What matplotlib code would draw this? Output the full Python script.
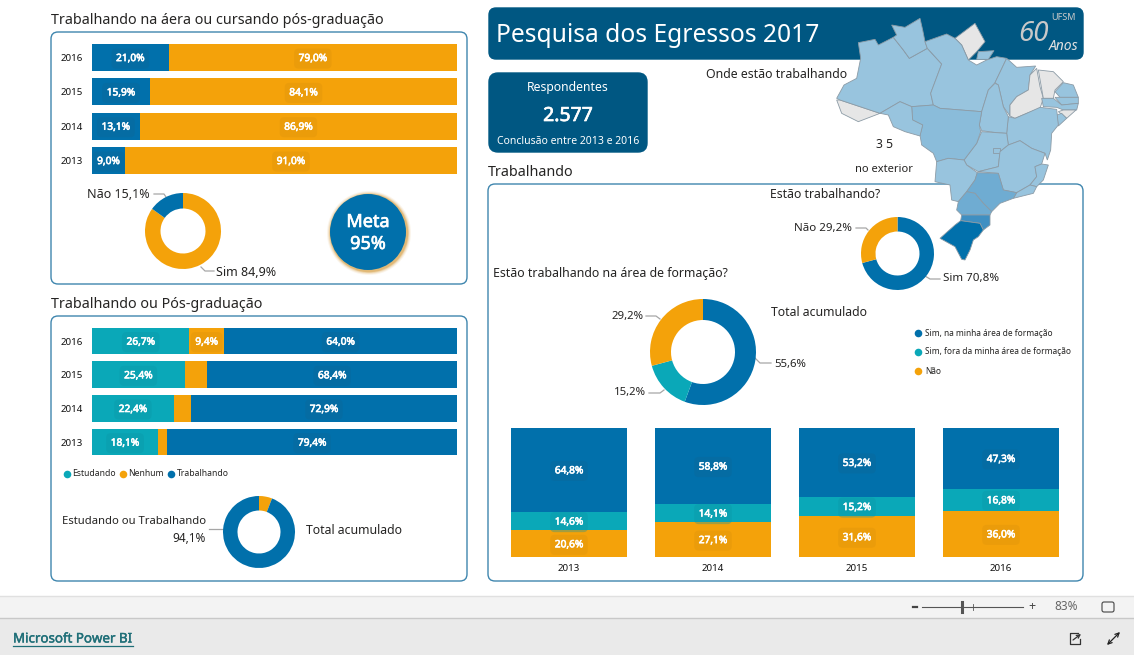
import matplotlib
matplotlib.use('Agg')
import matplotlib.pyplot as plt
import matplotlib.patheffects as pe
from matplotlib.patches import FancyBboxPatch, Polygon, Circle
import numpy as np

plt.rcParams['font.family'] = ['Noto Sans', 'DejaVu Sans']

W, H = 1134, 655
AZUL = '#0170AB'
LARANJA = '#F4A20A'
TEAL = '#0AA8B8'
ESCURO = '#005782'
BORDA = '#3F86AE'
TEXTO = '#252423'

# dados
anos = ['2016', '2015', '2014', '2013']
sim_area = [21.0, 15.9, 13.1, 9.0]
nao_area = [79.0, 84.1, 86.9, 91.0]

estudando = [26.7, 25.4, 22.4, 18.1]
nenhum = [9.4, 6.2, 4.7, 2.5]
trabalhando = [64.0, 68.4, 72.9, 79.4]

donut_area = [84.9, 15.1]
donut_acum = [5.9, 94.1]
donut_trab = [70.8, 29.2]
donut_form = [55.6, 15.2, 29.2]

anos_col = ['2013', '2014', '2015', '2016']
col_sim = [64.8, 58.8, 53.2, 47.3]
col_fora = [14.6, 14.1, 15.2, 16.8]
col_nao = [20.6, 27.1, 31.6, 36.0]

# contorno dos estados (mapa), cor de cada um
MAPA_1 = '#98C4DE'
MAPA_2 = '#8ABCDA'
MAPA_3 = '#6FACD2'
MAPA_4 = '#3F8FC2'
CINZA = '#E6E6E6'
estados = [
    ('AC', CINZA, [(-10,270),(5,310),(55,335),(120,310),(60,290),(0,270)]),
    ('AM', MAPA_1, [(55,98),(105,88),(115,105),(160,82),(190,120),(208,145),(235,130),(262,115),(305,162),(272,250),(280,285),(215,290),(180,275),(120,310),(60,290),(0,270),(-10,265),(12,225),(50,205),(62,145)]),
    ('RR', MAPA_1, [(155,45),(195,52),(240,25),(248,60),(255,95),(262,115),(235,130),(208,145),(190,120),(160,82),(170,75)]),
    ('AP', CINZA, [(345,85),(405,40),(435,95),(410,125),(385,150),(365,105)]),
    ('PA', MAPA_1, [(255,95),(320,72),(345,85),(365,105),(385,150),(410,165),(440,150),(470,140),(500,145),(465,218),(445,240),(425,305),(300,295),(280,285),(272,250),(305,162),(262,115)]),
    ('MJ', MAPA_1, [(415,125),(462,122),(445,148),(410,148)]),
    ('MA', MAPA_1, [(500,145),(530,172),(587,168),(570,195),(565,240),(530,260),(510,285),(510,318),(490,290),(475,225),(465,218)]),
    ('PI', CINZA, [(590,175),(600,230),(610,265),(600,295),(560,310),(525,325),(510,318),(510,285),(530,260),(565,240),(570,195)]),
    ('CE', CINZA, [(595,180),(640,185),(670,215),(645,240),(640,265),(610,265)]),
    ('RN', MAPA_1, [(670,218),(700,225),(715,262),(660,262),(645,245)]),
    ('PB', MAPA_1, [(645,262),(715,262),(715,280),(665,285)]),
    ('PE', MAPA_1, [(605,265),(640,265),(665,285),(715,280),(710,300),(670,300),(650,292),(610,290)]),
    ('AL', CINZA, [(655,305),(670,300),(708,300),(680,325)]),
    ('SE', MAPA_1, [(650,315),(665,310),(680,325),(655,348)]),
    ('BA', MAPA_1, [(505,405),(500,370),(505,320),(525,325),(560,310),(600,292),(650,298),(655,345),(635,370),(632,420),(622,450),(615,430),(575,415),(540,392)]),
    ('TO', MAPA_1, [(465,220),(475,225),(490,290),(505,320),(500,370),(470,368),(425,362),(418,345),(425,305),(445,240)]),
    ('GO', MAPA_1, [(425,365),(500,370),(505,405),(480,425),(475,470),(415,485),(380,465),(372,450),(410,400)]),
    ('DF', MAPA_1, [(460,415),(480,415),(480,428),(460,428)]),
    ('MT', MAPA_2, [(215,290),(280,285),(300,295),(425,305),(418,345),(422,365),(410,400),(372,450),(325,445),(290,455),(280,430),(245,405),(240,375),(248,345),(218,330)]),
    ('RO', MAPA_1, [(120,310),(180,275),(215,290),(218,330),(248,345),(240,378),(195,365),(160,350),(145,315)]),
    ('MS', MAPA_1, [(290,455),(325,445),(372,450),(380,465),(412,488),(405,510),(380,545),(355,575),(335,570),(330,525),(285,515)]),
    ('MG', MAPA_1, [(505,405),(540,392),(575,415),(615,430),(605,462),(585,470),(590,500),(570,525),(530,548),(490,540),(475,490),(415,485),(475,470),(480,425)]),
    ('ES', MAPA_1, [(605,462),(625,465),(610,510),(590,530),(570,525),(590,500),(585,470)]),
    ('RJ', MAPA_1, [(530,548),(570,525),(590,530),(580,550),(520,565)]),
    ('SP', MAPA_3, [(412,488),(475,490),(490,540),(530,548),(520,565),(480,580),(455,605),(430,580),(405,550),(380,545),(405,510)]),
    ('PR', MAPA_3, [(380,545),(405,550),(430,580),(455,605),(450,615),(365,615),(350,600),(355,575)]),
    ('SC', MAPA_4, [(365,615),(450,615),(450,645),(430,660),(420,640),(362,632)]),
    ('RS', AZUL, [(362,632),(420,640),(430,660),(415,680),(400,690),(390,720),(375,750),(365,748),(345,710),(300,685),(345,645)]),
]


def eixo(x, y, w, h, z=1):
    a = fig.add_axes([x / W, 1 - (y + h) / H, w / W, h / H], zorder=z)
    a.patch.set_alpha(0)
    return a


def caixa(x0, y0, x1, y1, fc='white', ec=BORDA, r=7, lw=1.0):
    bg.add_patch(FancyBboxPatch((x0 + r, y0 + r), x1 - x0 - 2 * r, y1 - y0 - 2 * r,
                                boxstyle=f'round,pad={r},rounding_size={r}', fc=fc, ec=ec, lw=lw))


def negrito(t, cor='white', lw=0.45):
    t.set_path_effects([pe.withStroke(linewidth=lw, foreground=cor)])


def rotulo(a, x, y, txt, cor, tam=7.3):
    t = a.annotate(txt, (x, y), xytext=(0, -0.8), textcoords='offset points',
                   ha='center', va='center', color='white', fontsize=tam,
                   bbox=dict(boxstyle='round,pad=0.45', fc=cor, ec='none', alpha=0.35))
    negrito(t)


def pct(v):
    return f'{v:.1f}%'.replace('.', ',')


def donut(cx, cy, r, interno, valores, cores):
    a = eixo(cx - r, cy - r, 2 * r, 2 * r)
    a.pie(valores, colors=cores, startangle=90, counterclock=False, radius=1,
          wedgeprops=dict(width=1 - interno / r, linewidth=0))
    a.set_xlim(-1, 1)
    a.set_ylim(-1, 1)
    return a


def barras_h(y, h, series, cores, cores_rot, esconder=()):
    a = eixo(92, y, 365, h)
    pos = np.arange(len(anos))
    esq = np.zeros(len(anos))
    for i, (vals, cor) in enumerate(zip(series, cores)):
        a.barh(pos, vals, left=esq, height=0.79, color=cor, linewidth=0)
        for j, v in enumerate(vals):
            if (i, j) not in esconder:
                rotulo(a, esq[j] + v / 2, j, pct(v), cores_rot[i])
        esq = esq + np.array(vals)
    a.set_xlim(0, 100)
    a.set_ylim(len(anos) - 0.5, -0.5)
    a.set_yticks(pos, anos, fontsize=7, color='#111111')
    a.tick_params(axis='y', length=0, pad=6.5)
    a.xaxis.set_visible(False)
    for s in a.spines.values():
        s.set_visible(False)
    return a


fig = plt.figure(figsize=(W / 100, H / 100), dpi=100, facecolor='white')
bg = fig.add_axes([0, 0, 1, 1], zorder=0)
bg.set_xlim(0, W)
bg.set_ylim(H, 0)
bg.axis('off')

# paineis
caixa(51, 32, 467, 284)
caixa(51, 316, 467, 581)
caixa(488, 184, 1083, 581)
caixa(489, 8, 1083, 59, fc=ESCURO, ec=ESCURO)
caixa(489, 73, 647, 152, fc=ESCURO, ec=ESCURO, r=9)

# titulos
bg.text(51, 21, 'Trabalhando na áera ou cursando pós-graduação', fontsize=10.3, color=TEXTO, va='center')
bg.text(51, 305, 'Trabalhando ou Pós-graduação', fontsize=10.3, color=TEXTO, va='center')
bg.text(488, 173, 'Trabalhando', fontsize=10.3, color=TEXTO, va='center')
bg.text(496, 36, 'Pesquisa dos Egressos 2017', fontsize=17.7, color='white', va='center')
bg.text(568, 87, 'Respondentes', fontsize=8.8, color='white', ha='center', va='center')
negrito(bg.text(568, 116, '2.577', fontsize=14, color='white', ha='center', va='center'), lw=0.5)
bg.text(568, 141, 'Conclusão entre 2013 e 2016', fontsize=7.5, color='white', ha='center', va='center')
bg.text(706, 74, 'Onde estão trabalhando', fontsize=8.9, color=TEXTO, va='center')
bg.text(884.5, 144, '3 5', fontsize=8.8, color=TEXTO, ha='center', va='center')
bg.text(884, 170, 'no exterior', fontsize=8, color=TEXTO, ha='center', va='center')
bg.text(770, 195, 'Estão trabalhando?', fontsize=8.8, color=TEXTO, va='center')
bg.text(493, 274, 'Estão trabalhando na área de formação?', fontsize=8.85, color=TEXTO, va='center')
bg.text(771, 312, 'Total acumulado', fontsize=8.8, color=TEXTO, va='center')
bg.text(306, 530, 'Total acumulado', fontsize=8.8, color=TEXTO, va='center')

# barras
barras_h(40.3, 137.3, [sim_area, nao_area], [AZUL, LARANJA], ['#0D6696', '#DC920A'])
barras_h(324.2, 134.7, [estudando, nenhum, trabalhando], [TEAL, LARANJA, AZUL],
         ['#0C95A5', '#DC920A', '#0D6696'], esconder={(1, 1), (1, 2), (1, 3)})

# rosquinhas
donut(183, 231, 38, 22.5, donut_area, [LARANJA, AZUL])
donut(259, 532, 36, 21.5, donut_acum, [LARANJA, AZUL])
donut(897.5, 253.5, 36.5, 22, donut_trab, [AZUL, LARANJA])
donut(703, 352, 53, 32, donut_form, [AZUL, TEAL, LARANJA])

# textos das rosquinhas e linhas guia
guia = dict(color='#A6A6A6', lw=0.9)
bg.text(150, 195, f'Não {pct(donut_area[1])}', fontsize=9, color=TEXTO, ha='right', va='center')
bg.plot([154, 164, 166], [194, 194, 197], **guia)
bg.text(216, 272, f'Sim {pct(donut_area[0])}', fontsize=9, color=TEXTO, va='center')
bg.plot([201, 205, 214], [267, 271, 271], **guia)
bg.text(206, 522, 'Estudando ou Trabalhando', fontsize=8.1, color=TEXTO, ha='right', va='center')
bg.text(206, 538, pct(donut_acum[1]), fontsize=8.5, color=TEXTO, ha='right', va='center')
bg.plot([209, 223], [529, 529], **guia)
bg.text(852, 229, f'Não {pct(donut_trab[1])}', fontsize=8.3, color=TEXTO, ha='right', va='center')
bg.plot([856, 866, 868], [228, 228, 230], **guia)
bg.text(943, 279, f'Sim {pct(donut_trab[0])}', fontsize=8.3, color=TEXTO, va='center')
bg.plot([925, 930, 940], [276, 279, 279], **guia)
bg.text(774, 364, pct(donut_form[0]), fontsize=8.2, color=TEXTO, va='center')
bg.plot([755, 760, 771], [358, 363, 363], **guia)
bg.text(646, 393, pct(donut_form[1]), fontsize=8.2, color=TEXTO, ha='right', va='center')
bg.plot([649, 660, 664], [393, 393, 390], **guia)
bg.text(643, 316, pct(donut_form[2]), fontsize=8.2, color=TEXTO, ha='right', va='center')
bg.plot([646, 656, 660], [316, 316, 319], **guia)

# meta
for r, al in zip([42, 41, 40, 39.2], [0.10, 0.18, 0.3, 0.5]):
    bg.add_patch(Circle((369, 233), r, fc='#D9A24A', ec='none', alpha=al))
bg.add_patch(Circle((368, 232), 38, fc=AZUL, ec='none'))
negrito(bg.text(368, 222, 'Meta', fontsize=13, color='white', ha='center', va='center'), lw=0.5)
negrito(bg.text(368, 244, '95%', fontsize=13, color='white', ha='center', va='center'), lw=0.5)

# legendas
for x, cor, txt in [(67, TEAL, 'Estudando'), (123, LARANJA, 'Nenhum'), (171, AZUL, 'Trabalhando')]:
    bg.scatter([x], [474], s=30, color=cor, linewidth=0)
    bg.text(x + 5.5, 474, txt, fontsize=6.2, color=TEXTO, va='center')
for y, cor, txt in [(333, AZUL, 'Sim, na minha área de formação'),
                    (352, TEAL, 'Sim, fora da minha área de formação'),
                    (371, LARANJA, 'Não')]:
    bg.scatter([918], [y], s=30, color=cor, linewidth=0)
    bg.text(925, y, txt, fontsize=6.0, color=TEXTO, va='center')

# colunas empilhadas
col = eixo(497, 428, 576, 129)
xs = np.arange(len(anos_col))
col.bar(xs, col_nao, width=0.806, color=LARANJA, linewidth=0)
col.bar(xs, col_fora, width=0.806, bottom=col_nao, color=TEAL, linewidth=0)
base = np.array(col_nao) + np.array(col_fora)
col.bar(xs, col_sim, width=0.806, bottom=base, color=AZUL, linewidth=0)
for i in xs:
    rotulo(col, i, col_nao[i] / 2, pct(col_nao[i]), '#DC920A')
    rotulo(col, i, col_nao[i] + col_fora[i] / 2, pct(col_fora[i]), '#0C95A5')
    rotulo(col, i, base[i] + col_sim[i] / 2, pct(col_sim[i]), '#0D6696')
col.set_xlim(-0.5, 3.5)
col.set_ylim(0, 100)
col.set_xticks(xs, anos_col, fontsize=7, color='#111111')
col.tick_params(axis='x', length=0, pad=5)
col.yaxis.set_visible(False)
for s in col.spines.values():
    s.set_visible(False)

# mapa por cima de tudo (coordenadas do recorte 3x a partir de 840,10)
mapa = fig.add_axes([0, 0, 1, 1], zorder=5)
mapa.set_xlim(0, W)
mapa.set_ylim(H, 0)
mapa.axis('off')
for uf, cor, pts in estados:
    p = np.array(pts, dtype=float) / 3 + [840, 10]
    mapa.add_patch(Polygon(p, closed=True, fc=cor, ec='#8C9BA6', lw=0.6))

# logo
mapa.text(1051, 18, 'UFSM', fontsize=6.5, color='#C9C9C9', va='center')
mapa.text(1033, 34, '60', fontsize=20, color='#C9C9C9', ha='center', va='center', style='italic')
mapa.text(1064, 47, 'Anos', fontsize=10, color='#E0E0E0', ha='center', va='center', style='italic')

# rodape do Power BI
bg.fill_between([0, W], 596, 618, color='#F3F3F3', linewidth=0)
bg.fill_between([0, W], 618, 655, color='#EAEAEA', linewidth=0)
bg.plot([0, W], [595.5, 595.5], color='#E0E0E0', lw=1)
bg.plot([0, W], [618, 618], color='#C8C8C8', lw=1)
negrito(bg.text(13, 639, 'Microsoft Power BI', fontsize=9.6, color='#1F6F78', va='center'), cor='#1F6F78', lw=0.3)
bg.plot([13, 133], [646, 646], color='#1F6F78', lw=0.9)
bg.plot([913, 917], [607, 607], color='#444444', lw=1.6)
bg.plot([922, 1023], [607, 607], color='#555555', lw=0.8)
bg.plot([973, 973], [604, 610], color='#555555', lw=0.6)
bg.plot([962, 962], [602, 612], color='#555555', lw=2.2)
bg.text(1032, 606.5, '+', fontsize=9, color='#444444', ha='center', va='center')
bg.text(1066, 607, '83%', fontsize=8.5, color='#666666', ha='center', va='center')
caixa(1102, 602, 1114, 612, fc='none', ec='#444444', r=2, lw=0.8)
# icones de compartilhar e expandir
bg.plot([1078, 1070, 1070, 1080, 1080], [633, 633, 644, 644, 639], color='#333333', lw=0.9)
bg.annotate('', (1081, 634), (1073, 640), arrowprops=dict(arrowstyle='->', color='#333333', lw=0.9, mutation_scale=6, shrinkA=0, shrinkB=0))
bg.annotate('', (1120, 632), (1107, 645), arrowprops=dict(arrowstyle='<->', color='#222222', lw=0.9, mutation_scale=7, shrinkA=0, shrinkB=0))

fig.savefig('out.png', dpi=100)
